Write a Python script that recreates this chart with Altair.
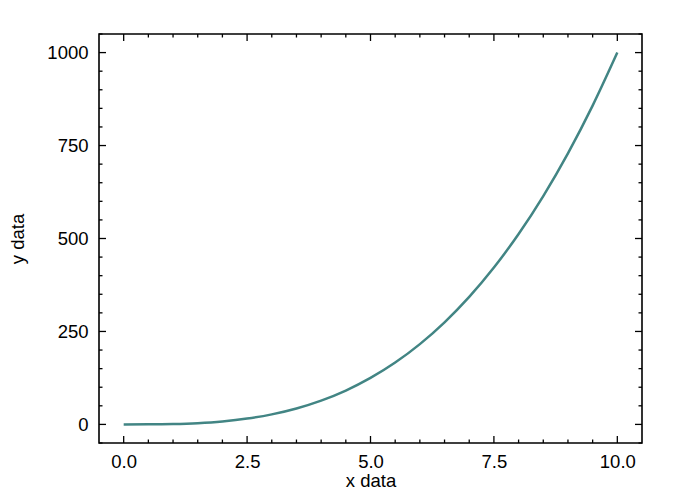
import altair as alt
import pandas as pd

x_vals = [0.0, 0.5, 1.0, 1.5, 2.0, 2.5, 3.0, 3.5, 4.0, 4.5, 5.0,
          5.5, 6.0, 6.5, 7.0, 7.5, 8.0, 8.5, 9.0, 9.5, 10.0]
y_vals = [0.0, 0.13, 1.0, 3.4, 8.0, 15.6, 27.0, 42.9, 64.0, 91.1, 125.0,
          166.4, 216.0, 274.6, 343.0, 421.9, 512.0, 614.1, 729.0, 857.4, 1000.0]

x_major = [0, 2.5, 5, 7.5, 10]
x_minor = [v / 2 for v in range(0, 21) if v % 5 != 0]
y_major = [0, 250, 500, 750, 1000]
y_minor = [v for v in range(-50, 1051, 50) if v % 250 != 0]

W, H = 543, 409
MAJ, MIN = 7, 3.5
FONT = "Liberation Sans"
FS = 18.5

df = pd.DataFrame({"x": x_vals, "y": y_vals})
xs = alt.Scale(domain=[-0.5, 10.5], nice=False, zero=False)
ys = alt.Scale(domain=[-50, 1050], nice=False, zero=False)

line = alt.Chart(df).mark_line(strokeWidth=2.5, color="#428584",
                               interpolate="monotone").encode(
    x=alt.X("x:Q", scale=xs,
            axis=alt.Axis(values=x_major, format=".1f", ticks=False,
                          domain=False, grid=False, labelPadding=9,
                          title="x data", titlePadding=1)),
    y=alt.Y("y:Q", scale=ys,
            axis=alt.Axis(values=y_major, format="d", ticks=False,
                          domain=False, grid=False, labelPadding=11,
                          title="y data", titlePadding=19)),
)

def xticks(values, size):
    d = pd.DataFrame({"v": values})
    c = alt.Chart(d)
    bottom = c.mark_rule(color="black", strokeWidth=1.3).encode(
        x=alt.X("v:Q", scale=xs), y=alt.value(H), y2=alt.value(H - size))
    top = c.mark_rule(color="black", strokeWidth=1.3).encode(
        x=alt.X("v:Q", scale=xs), y=alt.value(0), y2=alt.value(size))
    return [bottom, top]

def yticks(values, size):
    d = pd.DataFrame({"v": values})
    c = alt.Chart(d)
    left = c.mark_rule(color="black", strokeWidth=1.3).encode(
        y=alt.Y("v:Q", scale=ys), x=alt.value(0), x2=alt.value(size))
    right = c.mark_rule(color="black", strokeWidth=1.3).encode(
        y=alt.Y("v:Q", scale=ys), x=alt.value(W), x2=alt.value(W - size))
    return [left, right]

layers = (xticks(x_major, MAJ) + xticks(x_minor, MIN)
          + yticks(y_major, MAJ) + yticks(y_minor, MIN) + [line])

chart = alt.layer(*layers).properties(
    width=W, height=H,
    padding={"left": 0, "top": 25, "right": 5, "bottom": 5},
    background="white",
).configure_view(
    stroke="black", strokeWidth=1.6
).configure_axis(
    labelFont=FONT, labelFontSize=FS, labelColor="black",
    titleFont=FONT, titleFontSize=FS, titleFontWeight="normal",
    titleColor="black",
)

chart.save("out.html", embed_options={"renderer": "svg", "actions": False})
